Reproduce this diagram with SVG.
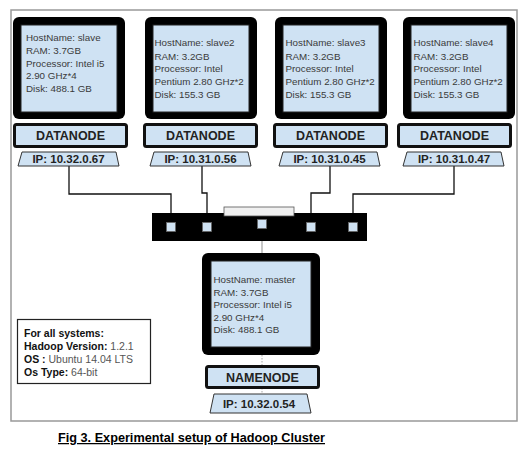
<svg xmlns="http://www.w3.org/2000/svg" width="528" height="449" viewBox="0 0 528 449">
<style>
.mon{fill:#000}
.scr{fill:#cfe2f3;stroke:#222;stroke-width:1}
.spec{font-family:"Liberation Sans",Arial,sans-serif;font-size:9.8px;fill:#3a3a3a}
.lbl{fill:#cfe2f3;stroke:#111;stroke-width:3}
.lt{font-family:"Liberation Sans",Arial,sans-serif;font-size:12.5px;font-weight:bold;fill:#222;text-anchor:middle}
.ip{fill:#cfe2f3;stroke:#333;stroke-width:1}
.ipt{font-family:"Liberation Sans",Arial,sans-serif;font-size:11.5px;font-weight:bold;fill:#222;text-anchor:middle}
.wire{fill:none;stroke:#111;stroke-width:1.3}
.info{font-family:"Liberation Sans",Arial,sans-serif;font-size:10.5px;fill:#555}
.info tspan.b{font-weight:bold;fill:#111}
.port{fill:#cfe2f3;stroke:#666;stroke-width:0.8}
</style>
<rect x="0" y="0" width="528" height="449" fill="#fff"/>
<rect x="11" y="10" width="506" height="411" fill="none" stroke="#999" stroke-width="1.5"/>

<g id="connectors">
<path class="wire" d="M69,166 V194 H171 V213"/>
<path class="wire" d="M202,166 V193 H207 V213"/>
<path class="wire" d="M330,166 V193 H311 V213"/>
<path class="wire" d="M454,166 V194 H353 V213"/>
<path fill="none" stroke="#aaa" stroke-width="1.3" d="M262,241 V253"/>
<path fill="none" stroke="#bbb" stroke-width="1.3" stroke-dasharray="1.5,1.5" d="M262,355 V365 M262,388 V394"/>
</g>

<g id="switch">
<rect x="152" y="213" width="215" height="28" fill="#000"/>
<rect x="224" y="207" width="70" height="9" fill="#f0f0f0" stroke="#555" stroke-width="0.8"/>
<rect class="port" x="166.5" y="222.5" width="9" height="9"/>
<rect class="port" x="202.5" y="222.5" width="9" height="9"/>
<rect class="port" x="257.5" y="219.5" width="9" height="9"/>
<rect class="port" x="306.5" y="222.5" width="9" height="9"/>
<rect class="port" x="348.5" y="222.5" width="9" height="9"/>
</g>

<g id="slave1">
<rect class="mon" x="13" y="17" width="112" height="102" rx="6"/>
<rect class="scr" x="21" y="25" width="96" height="87"/>
<text class="spec" x="26" y="41">HostName: slave</text>
<text class="spec" x="26" y="54">RAM: 3.7GB</text>
<text class="spec" x="26" y="67">Processor: Intel i5</text>
<text class="spec" x="26" y="79">2.90 GHz*4</text>
<text class="spec" x="26" y="92">Disk: 488.1 GB</text>
<rect class="lbl" x="14.5" y="124.5" width="112" height="22" rx="2"/>
<text class="lt" x="70.5" y="140">DATANODE</text>
<polygon class="ip" points="22,152 116,152 119,166 18,166"/>
<text class="ipt" x="68.5" y="163">IP: 10.32.0.67</text>
</g>

<g id="slave2">
<rect class="mon" x="145" y="17" width="112" height="102" rx="6"/>
<rect class="scr" x="153" y="25" width="96" height="87"/>
<text class="spec" x="154.5" y="46">HostName: slave2</text>
<text class="spec" x="154.5" y="60">RAM: 3.2GB</text>
<text class="spec" x="154.5" y="72">Processor: Intel</text>
<text class="spec" x="154.5" y="85">Pentium 2.80 GHz*2</text>
<text class="spec" x="154.5" y="98">Disk: 155.3 GB</text>
<rect class="lbl" x="144.5" y="124.5" width="112" height="22" rx="2"/>
<text class="lt" x="200.5" y="140">DATANODE</text>
<polygon class="ip" points="154,152 248,152 251,166 150,166"/>
<text class="ipt" x="200.5" y="163">IP: 10.31.0.56</text>
</g>

<g id="slave3">
<rect class="mon" x="275" y="17" width="112" height="102" rx="6"/>
<rect class="scr" x="283" y="25" width="96" height="87"/>
<text class="spec" x="285.5" y="46">HostName: slave3</text>
<text class="spec" x="285.5" y="60">RAM: 3.2GB</text>
<text class="spec" x="285.5" y="72">Processor: Intel</text>
<text class="spec" x="285.5" y="85">Pentium 2.80 GHz*2</text>
<text class="spec" x="285.5" y="98">Disk: 155.3 GB</text>
<rect class="lbl" x="274.5" y="124.5" width="112" height="22" rx="2"/>
<text class="lt" x="330.5" y="140">DATANODE</text>
<polygon class="ip" points="283,152 377,152 380,166 279,166"/>
<text class="ipt" x="329.5" y="163">IP: 10.31.0.45</text>
</g>

<g id="slave4">
<rect class="mon" x="403" y="17" width="112" height="102" rx="6"/>
<rect class="scr" x="411" y="25" width="96" height="87"/>
<text class="spec" x="413.5" y="46">HostName: slave4</text>
<text class="spec" x="413.5" y="60">RAM: 3.2GB</text>
<text class="spec" x="413.5" y="72">Processor: Intel</text>
<text class="spec" x="413.5" y="85">Pentium 2.80 GHz*2</text>
<text class="spec" x="413.5" y="98">Disk: 155.3 GB</text>
<rect class="lbl" x="398.5" y="124.5" width="112" height="22" rx="2"/>
<text class="lt" x="454.5" y="140">DATANODE</text>
<polygon class="ip" points="407,152 501,152 504,166 403,166"/>
<text class="ipt" x="454" y="163">IP: 10.31.0.47</text>
</g>

<g id="master">
<rect class="mon" x="202" y="253" width="118" height="102" rx="6"/>
<rect class="scr" x="211" y="261" width="100" height="86"/>
<text class="spec" x="213.5" y="283">HostName: master</text>
<text class="spec" x="213.5" y="296">RAM: 3.7GB</text>
<text class="spec" x="213.5" y="308">Processor: Intel i5</text>
<text class="spec" x="213.5" y="321">2.90 GHz*4</text>
<text class="spec" x="213.5" y="333">Disk: 488.1 GB</text>
<rect class="lbl" x="206.5" y="366.5" width="112" height="21" rx="2"/>
<text class="lt" x="262.5" y="381.5">NAMENODE</text>
<polygon class="ip" points="214,394 307,394 311,413 210,413"/>
<text class="ipt" x="259" y="408">IP: 10.32.0.54</text>
</g>

<g id="info">
<rect x="17.5" y="319.5" width="133" height="64" fill="#fff" stroke="#222" stroke-width="1.2"/>
<text class="info" x="24" y="337"><tspan class="b">For all systems:</tspan></text>
<text class="info" x="24" y="350"><tspan class="b">Hadoop Version:</tspan> 1.2.1</text>
<text class="info" x="24" y="363"><tspan class="b">OS :</tspan> Ubuntu 14.04 LTS</text>
<text class="info" x="24" y="376"><tspan class="b">Os Type:</tspan> 64-bit</text>
</g>

<text x="58" y="442" font-family="Liberation Sans,Arial,sans-serif" font-size="12.5px" font-weight="bold" fill="#000" text-decoration="underline" textLength="267" lengthAdjust="spacingAndGlyphs">Fig 3. Experimental setup of Hadoop Cluster</text>
</svg>
